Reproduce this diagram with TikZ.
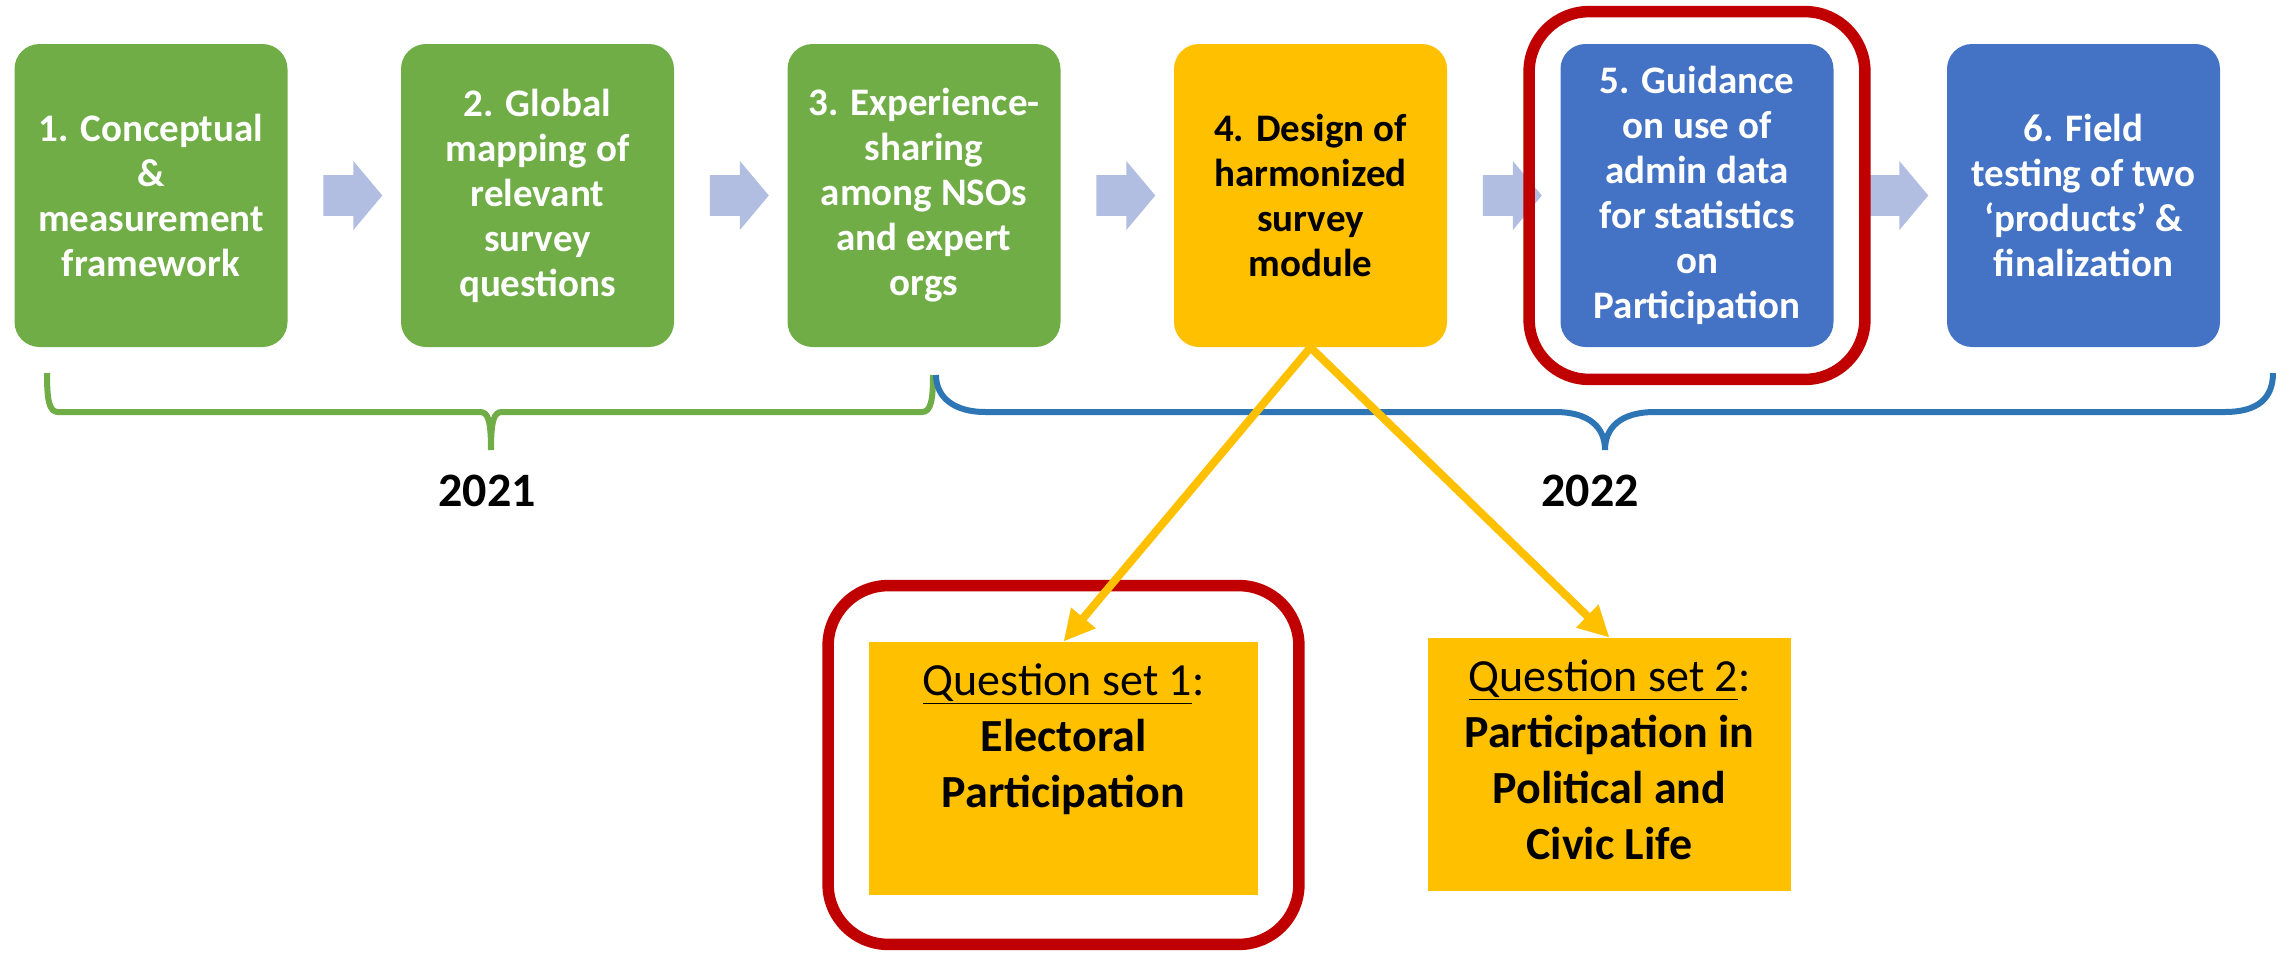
\documentclass[tikz,border=0pt]{standalone}
\usepackage{fontspec}
\setmainfont{Carlito}
\usetikzlibrary{positioning,shapes.arrows,arrows.meta,fit}

\definecolor{stagegreen}{HTML}{70AD47}
\definecolor{stageyellow}{HTML}{FFC000}
\definecolor{stageblue}{HTML}{4472C4}
\definecolor{flowblue}{HTML}{B1BEE1}
\definecolor{framered}{HTML}{C00000}
\definecolor{braceblue}{HTML}{2E75B6}

\tikzset{
  stage/.style={rounded corners=12.5pt, minimum width=136.5pt, minimum height=151.5pt,
    inner sep=0pt, align=center, font=\bfseries\fontsize{19.5}{22.5}\selectfont},
  greenstage/.style={stage, fill=stagegreen, text=white},
  yellowstage/.style={stage, fill=stageyellow, text=black},
  bluestage/.style={stage, fill=stageblue, text=white},
  flow/.style={single arrow, fill=flowblue, minimum height=29.5pt, inner xsep=0pt, inner ysep=10pt,
    single arrow head extend=7pt, single arrow tip angle=100},
  qbox/.style={fill=stageyellow, inner sep=0pt, font=\fontsize{23}{28}\selectfont},
  redframe/.style={draw=framered, line width=5.75pt, rounded corners=30pt, inner sep=0pt},
  pick/.style={draw=stageyellow, line width=4pt, -{Triangle[length=15.5pt,width=15pt]}},
  yearbrace/.style={line width=3pt},
  year/.style={font=\bfseries\fontsize{24}{28}\selectfont}
}

\begin{document}
\begin{tikzpicture}[x=0.5pt,y=-0.5pt,node distance=193.25pt,on grid]
\useasboundingbox (0,0) rectangle (2292,953);

\draw[yearbrace,stagegreen] (47,373) .. controls (47,400) and (49,412) .. (58,412) -- (480,412)
  .. controls (488,412) and (491,420) .. (491,450) .. controls (491,420) and (494,412) .. (502,412)
  -- (922,412) .. controls (931,412) and (933,400) .. (933,375);
\draw[yearbrace,braceblue] (936,375) .. controls (936,398) and (955,412) .. (985,412) -- (1555,412)
  .. controls (1590,412) and (1605,428) .. (1605,450) .. controls (1605,428) and (1620,412) .. (1655,412)
  -- (2225,412) .. controls (2258,412) and (2273,398) .. (2273,373);
\node[year] (y1) at (487,491) {2021};
\node[year] (y2) at (1590,491) {2022};

\node[greenstage] (s1) at (151,195.5) {1. Conceptual\\\&\\measurement\\framework};
\node[greenstage] (s2) [right=of s1] {2. Global\\mapping of\\relevant\\survey\\questions};
\node[greenstage] (s3) [right=of s2] {3. Experience-\\sharing\\among NSOs\\and expert\\orgs};
\node[yellowstage] (s4) [right=of s3] {4. Design of\\harmonized\\survey\\module};
\node[bluestage] (s5) [right=of s4] {5. Guidance\\on use of\\admin data\\for statistics\\on\\Participation};
\node[bluestage] (s6) [right=of s5] {6. Field\\testing of two\\‘products’ \&\\finalization};

\node[flow] (a12) [right=96.625pt of s1] {};
\node[flow] (a23) [right=96.625pt of s2] {};
\node[flow] (a34) [right=96.625pt of s3] {};
\node[flow] (a45) [right=96.625pt of s4] {};
\node[flow] (a56) [right=96.625pt of s5] {};

\node[redframe, fit=(s5), inner xsep=15.5pt, inner ysep=16pt] (f5) {};

\node[qbox] (q1) [below left=286.5pt and 123.5pt of s4]
  {\parbox[c][126.5pt][t]{194.5pt}{\centering\rule{0pt}{26.5pt}\underline{Question set 1}:\\
   \textbf{Electoral}\\\textbf{Participation}}};
\node[qbox] (q2) [below right=284.5pt and 149.5pt of s4]
  {\parbox[c][126.5pt][t]{181.5pt}{\centering\rule{0pt}{26.5pt}\underline{Question set 2}:\\
   \textbf{Participation in}\\\textbf{Political and}\\\textbf{Civic Life}}};
\node[redframe, fit=(q1), inner xsep=20.25pt, inner ysep=26.25pt, yshift=1.75pt] (f1) {};

\draw[pick] (s4.south) -- (q1.north);
\draw[pick] (s4.south) -- (q2.north);
\end{tikzpicture}
\end{document}
